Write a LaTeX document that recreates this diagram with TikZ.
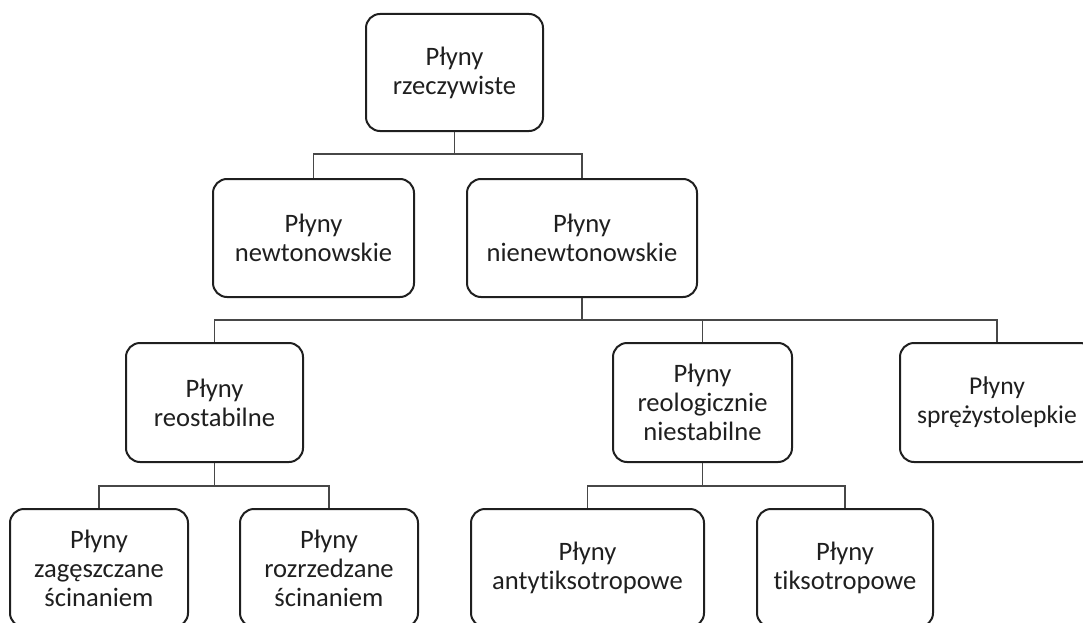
\documentclass[tikz,border=0pt]{standalone}
\usepackage{fontspec}
\setmainfont{Carlito}[Ligatures=NoCommon]
\begin{document}
\begin{tikzpicture}[x=1pt,y=-1pt,
  box/.style={draw=black!88, line width=2pt, rounded corners=14pt, align=center,
    font=\fontsize{26.6}{29}\selectfont, text=black!88, inner sep=0pt, minimum height=118pt},
  conn/.style={draw=black!72, line width=1.5pt}]
\useasboundingbox (0,0) rectangle (1083,623);
\clip (0,0) rectangle (1083,623);
\coordinate (l1) at (0,154);
\coordinate (l2) at (0,320);
\coordinate (l3) at (0,486);
\node[box, minimum width=177pt, minimum height=117pt] (top) at (454.5,72.5) {Płyny\\rzeczywiste};
\node[box, minimum width=201pt] (newt) at (313.5,238) {Płyny\\newtonowskie};
\node[box, minimum width=230pt] (nienewt) at (582,238) {Płyny\\nienewtonowskie};
\node[box, minimum width=177pt, minimum height=119pt] (reo) at (214.5,402.5) {Płyny\\reostabilne};
\node[box, minimum width=179pt, minimum height=119pt] (reol) at (702.5,402.5) {Płyny\\reologicznie\\niestabilne};
\node[box, minimum width=194pt, minimum height=119pt, font=\fontsize{25.6}{29}\selectfont] (spr) at (997,402.5) {Płyny\\sprężystolepkie};
\node[box, minimum width=178pt] (zag) at (99,568) {Płyny\\zagęszczane\\ścinaniem};
\node[box, minimum width=178pt] (roz) at (329,568) {Płyny\\rozrzedzane\\ścinaniem};
\node[box, minimum width=233pt] (anty) at (587.5,568) {Płyny\\antytiksotropowe};
\node[box, minimum width=176pt] (tiks) at (845,568) {Płyny\\tiksotropowe};
\draw[conn] (top.south) -- (top.south |- l1) -| (newt.north);
\draw[conn] (top.south |- l1) -| (nienewt.north);
\draw[conn] (nienewt.south) -- (nienewt.south |- l2) -| (reo.north);
\draw[conn] (nienewt.south |- l2) -| (reol.north);
\draw[conn] (nienewt.south |- l2) -| (spr.north);
\draw[conn] (reo.south) -- (reo.south |- l3) -| (zag.north);
\draw[conn] (reo.south |- l3) -| (roz.north);
\draw[conn] (reol.south) -- (reol.south |- l3) -| (anty.north);
\draw[conn] (reol.south |- l3) -| (tiks.north);
\end{tikzpicture}
\end{document}
